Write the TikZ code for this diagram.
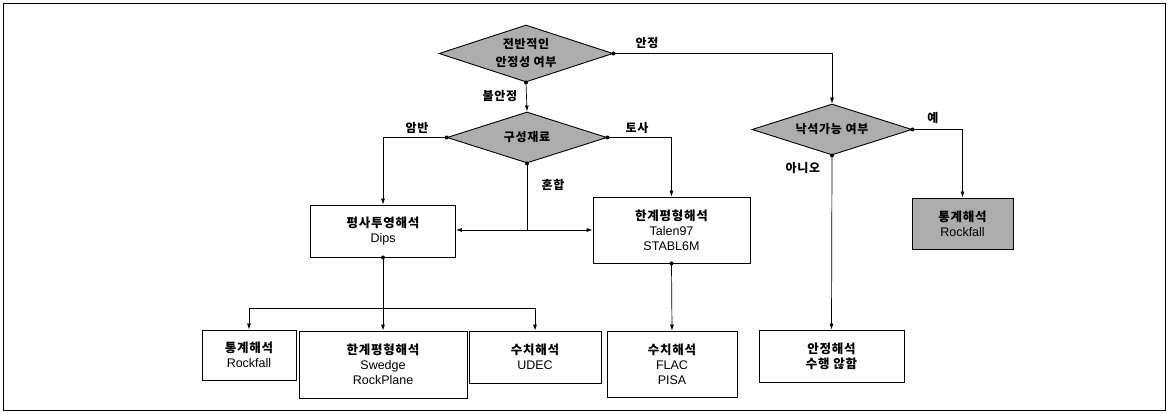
\documentclass[tikz,border=0pt]{standalone}
\usepackage{fontspec}
\setmainfont{Liberation Sans}
\newfontfamily\kr[LetterSpace=6]{Noto Sans CJK KR}
\usetikzlibrary{shapes.geometric,arrows.meta}
\newcommand\hk[1]{{\kr\bfseries #1}}
\begin{document}
\begin{tikzpicture}[x=1pt,y=-1pt,
 box/.style={draw,line width=0.9pt,align=center,inner sep=0pt,font=\fontsize{12.5}{15}\selectfont},
 grbox/.style={box,fill=black!32},
 dec/.style={diamond,draw,line width=0.9pt,fill=black!32,inner sep=0pt,aspect=3,align=center,font=\fontsize{12}{18}\selectfont},
 lbl/.style={font=\kr\bfseries\fontsize{12}{14}\selectfont,inner sep=0pt},
 conn/.style={line width=0.7pt},
 arr/.style={conn,-{Latex[length=6pt,width=4pt]}},
 dotmark/.style={fill,circle,inner sep=0pt,minimum size=4pt}]
\useasboundingbox (0,0) rectangle (1167,414);
\draw[line width=1pt] (3,4) rectangle (1165,410);
% decisions
\node[dec,minimum width=174pt,minimum height=57pt] (d1) at (526,53.5) {\hk{전반적인}\\\hk{안정성 여부}};
\node[dec,minimum width=160pt,minimum height=51pt] (d2) at (527,137.5) {\hk{구성재료}};
\node[dec,minimum width=160pt,minimum height=51pt] (d3) at (832,129.5) {\hk{낙석가능 여부}};
% boxes
\node[box,minimum width=145pt,minimum height=52pt] (dips) at (383,231) {\hk{평사투영해석}\\Dips};
\node[box,minimum width=157pt,minimum height=66pt] (talen) at (671.5,230) {\hk{한계평형해석}\\Talen97\\STABL6M};
\node[grbox,minimum width=101pt,minimum height=51pt] (stat) at (962.5,223.5) {\hk{통계해석}\\Rockfall};
\node[box,minimum width=94pt,minimum height=50pt] (r1) at (249,355) {\hk{통계해석}\\Rockfall};
\node[box,minimum width=168pt,minimum height=67pt] (r2) at (383,364.5) {\hk{한계평형해석}\\Swedge\\RockPlane};
\node[box,minimum width=132pt,minimum height=52pt] (r3) at (535,357) {\hk{수치해석}\\UDEC};
\node[box,minimum width=130pt,minimum height=66pt] (r4) at (672,364) {\hk{수치해석}\\FLAC\\PISA};
\node[box,minimum width=145pt,minimum height=52pt] (nosa) at (831.5,356) {\hk{안정해석}\\\hk{수행 않함}};
% helper coordinates
\coordinate (mix) at (527,230);
\coordinate (split) at (383,308);
% connectors
\draw[arr] (d1.east) -| (d3.north);
\draw[arr] (d1.south) -- (d2.north);
\draw[arr] (d2.west) -| (dips.north);
\draw[arr] (d2.east) -| (talen.north);
\draw[conn] (d2.south) -- (mix);
\draw[arr] (mix) -- (mix -| dips.east);
\draw[arr] (mix) -- (mix -| talen.west);
\draw[conn] (dips.south) -- (split);
\draw[arr] (split) -| (r1.north);
\draw[arr] (split) -- (r2.north);
\draw[arr] (split) -| (r3.north);
\draw[arr] (talen.south) -- (r4.north);
\draw[arr] (d3.east) -| (stat.north);
\draw[arr] (d3.south) -- (nosa.north);
% dots
\foreach \p in {d1.east,d1.south,d2.west,d2.east,d2.south,d3.east,d3.south,dips.south,talen.south}
  \node[dotmark] at (\p) {};
% labels
\node[lbl] (l1) at (647,43) {안정};
\node[lbl] (l2) at (500,96) {불안정};
\node[lbl] (l3) at (417,128) {암반};
\node[lbl] (l4) at (637,128) {토사};
\node[lbl] (l5) at (553,185) {혼합};
\node[lbl] (l6) at (933,118) {예};
\node[lbl] (l7) at (803,168) {아니오};
\end{tikzpicture}
\end{document}
